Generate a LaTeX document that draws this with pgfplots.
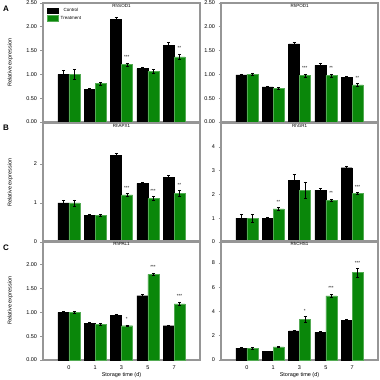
\documentclass[border=0pt]{standalone}
\usepackage{pgfplots}
\pgfplotsset{compat=1.18}
\usepackage{fontspec}
\setmainfont{Liberation Sans}
\definecolor{bargreen}{RGB}{10,135,10}
\definecolor{axgray}{RGB}{150,150,150}
\pgfplotsset{
  panel/.style={
    scale only axis, width=157pt, height=119pt, anchor=south west,
    ybar=0pt, bar width=11pt,
    xmin=-0.98, xmax=4.98,
    ymin=0,
    axis line style={axgray, line width=1.1pt},
    xtick={0,1,2,3,4}, xticklabels={0,1,3,5,7},
    xtick style={draw=none},
    ytick pos=left, tick align=outside,
    ytick style={axgray, line width=0.6pt},
    major tick length=2.5pt,
    tick label style={font=\fontsize{5.5}{6.5}\selectfont},
    /pgf/number format/assume math mode=true,
    title style={font=\fontsize{4.5}{5}\selectfont, at={(0.5,0.97)}, anchor=north},
    error bars/y dir=both, error bars/y explicit,
    error bars/error bar style={black, line width=0.5pt},
    error bars/error mark options={rotate=90, mark size=1.5pt, line width=0.5pt},
  },
  ctrl/.style={fill=black, draw=black},
  trt/.style={fill=bargreen, draw=bargreen!70!white},
  noxlab/.style={xticklabels=\empty},
  ylab/.style={ylabel={Relative expression}, ylabel style={font=\fontsize{5.5}{6.5}\selectfont, at={(-0.17,0.5)}}},
}
\newcommand{\sig}[3]{\node[font=\fontsize{4.5}{5}\selectfont, anchor=south] at (axis cs:#1,#2) {#3};}
\begin{document}
\begin{tikzpicture}[x=1pt,y=1pt]
\path[use as bounding box] (0,0) rectangle (380,380);
% ---------- A left ----------
\begin{axis}[panel, noxlab, ylab, at={(43pt,258pt)}, ymax=2.5,
  ytick={0,0.5,1,1.5,2,2.5},
  yticklabel style={/pgf/number format/.cd, fixed, fixed zerofill, precision=2},
  title={RhSOD1},
  legend style={draw=none, fill=none, at={(0.02,0.98)}, anchor=north west,
    font=\fontsize{4.5}{5}\selectfont, row sep=-1pt, inner sep=1pt},
  legend image code/.code={\draw[#1] (0pt,-2.5pt) rectangle (11pt,3pt);}]
\addplot[ctrl] coordinates {(0,1.00) +- (0,0.08) (1,0.68) +- (0,0.02) (2,2.16) +- (0,0.04) (3,1.12) +- (0,0.04) (4,1.61) +- (0,0.07)};
\addplot[trt] coordinates {(0,1.00) +- (0,0.10) (1,0.81) +- (0,0.03) (2,1.21) +- (0,0.03) (3,1.07) +- (0,0.04) (4,1.37) +- (0,0.06)};
\legend{Control,Treatment}
\sig{2.2}{1.25}{***}
\sig{4.2}{1.44}{**}
\end{axis}
% ---------- A right ----------
\begin{axis}[panel, noxlab, at={(221pt,258pt)}, ymax=2.5,
  ytick={0,0.5,1,1.5,2,2.5},
  yticklabel style={/pgf/number format/.cd, fixed, fixed zerofill, precision=2},
  title={RhPOD1}]
\addplot[ctrl] coordinates {(0,0.99) +- (0,0.02) (1,0.74) +- (0,0.02) (2,1.64) +- (0,0.04) (3,1.19) +- (0,0.05) (4,0.94) +- (0,0.02)};
\addplot[trt] coordinates {(0,1.00) +- (0,0.02) (1,0.71) +- (0,0.02) (2,0.98) +- (0,0.03) (3,0.98) +- (0,0.03) (4,0.78) +- (0,0.03)};
\sig{2.2}{1.02}{***}
\sig{3.2}{1.02}{**}
\sig{4.2}{0.82}{**}
\end{axis}
% ---------- B left ----------
\begin{axis}[panel, noxlab, ylab, at={(43pt,138pt)}, ymax=3.05,
  ytick={0,1,2}, title={RhAPX1}]
\addplot[ctrl] coordinates {(0,1.00) +- (0,0.07) (1,0.69) +- (0,0.02) (2,2.22) +- (0,0.06) (3,1.50) +- (0,0.02) (4,1.65) +- (0,0.06)};
\addplot[trt] coordinates {(0,1.00) +- (0,0.08) (1,0.68) +- (0,0.02) (2,1.21) +- (0,0.04) (3,1.11) +- (0,0.05) (4,1.25) +- (0,0.08)};
\sig{2.2}{1.26}{***}
\sig{3.2}{1.17}{***}
\sig{4.2}{1.34}{**}
\end{axis}
% ---------- B right ----------
\begin{axis}[panel, noxlab, at={(221pt,138pt)}, ymax=5,
  ytick={0,1,2,3,4}, title={RhGR1}]
\addplot[ctrl] coordinates {(0,1.00) +- (0,0.15) (1,0.98) +- (0,0.05) (2,2.60) +- (0,0.25) (3,2.18) +- (0,0.06) (4,3.12) +- (0,0.08)};
\addplot[trt] coordinates {(0,1.00) +- (0,0.15) (1,1.39) +- (0,0.06) (2,2.18) +- (0,0.35) (3,1.76) +- (0,0.05) (4,2.05) +- (0,0.05)};
\sig{1.2}{1.46}{**}
\sig{3.2}{1.83}{**}
\sig{4.2}{2.12}{***}
\end{axis}
% ---------- C left ----------
\begin{axis}[panel, ylab, at={(43pt,20pt)}, ymax=2.5,
  ytick={0,0.5,1,1.5,2},
  yticklabel style={/pgf/number format/.cd, fixed, fixed zerofill, precision=2},
  xlabel={Storage time (d)}, xlabel style={font=\fontsize{5.5}{6.5}\selectfont, yshift=4pt},
  title={RhPAL1}]
\addplot[ctrl] coordinates {(0,1.00) +- (0,0.02) (1,0.77) +- (0,0.02) (2,0.94) +- (0,0.02) (3,1.35) +- (0,0.03) (4,0.72) +- (0,0.02)};
\addplot[trt] coordinates {(0,1.00) +- (0,0.02) (1,0.75) +- (0,0.02) (2,0.72) +- (0,0.02) (3,1.80) +- (0,0.03) (4,1.18) +- (0,0.03)};
\sig{2.2}{0.76}{*}
\sig{3.2}{1.85}{***}
\sig{4.2}{1.23}{***}
\end{axis}
% ---------- C right ----------
\begin{axis}[panel, at={(221pt,20pt)}, ymax=9.8,
  ytick={0,2,4,6,8},
  xlabel={Storage time (d)}, xlabel style={font=\fontsize{5.5}{6.5}\selectfont, yshift=4pt},
  title={RhCHS1}]
\addplot[ctrl] coordinates {(0,0.97) +- (0,0.05) (1,0.70) +- (0,0.03) (2,2.40) +- (0,0.06) (3,2.28) +- (0,0.05) (4,3.25) +- (0,0.08)};
\addplot[trt] coordinates {(0,0.97) +- (0,0.05) (1,1.08) +- (0,0.05) (2,3.33) +- (0,0.25) (3,5.28) +- (0,0.15) (4,7.20) +- (0,0.35)};
\sig{2.2}{3.6}{*}
\sig{3.2}{5.5}{***}
\sig{4.2}{7.6}{***}
\end{axis}
% panel letters
\node[font=\fontsize{8}{9}\selectfont\bfseries] at (6,371) {A};
\node[font=\fontsize{8}{9}\selectfont\bfseries] at (6,252) {B};
\node[font=\fontsize{8}{9}\selectfont\bfseries] at (6,132) {C};
\end{tikzpicture}
\end{document}
